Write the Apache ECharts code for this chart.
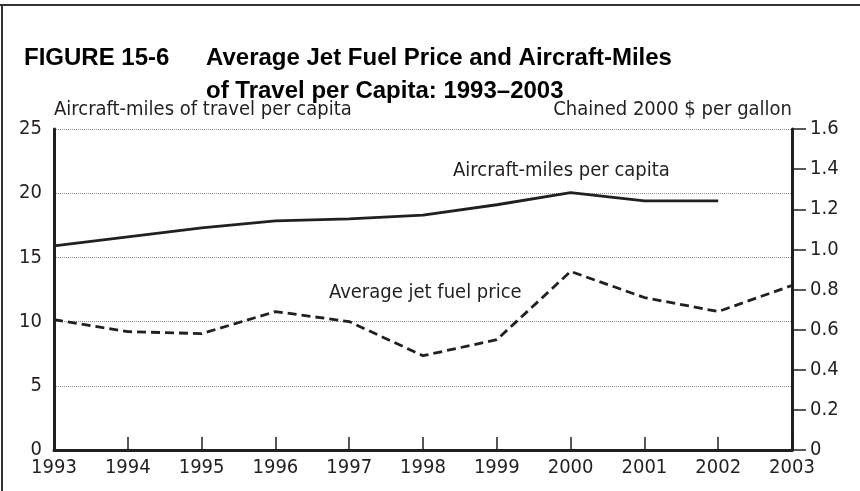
<!DOCTYPE html>
<html>
<head>
<meta charset="utf-8">
<script src="https://cdn.jsdelivr.net/npm/echarts@6/dist/echarts.min.js"></script>
<style>
html,body{margin:0;padding:0;background:#fff;}
#c{width:860px;height:491px;}
</style>
</head>
<body>
<div id="c"></div>
<script>
var years = ['1993','1994','1995','1996','1997','1998','1999','2000','2001','2002','2003'];
var aircraftMiles = [15.9, 16.6, 17.3, 17.85, 18.0, 18.3, 19.1, 20.05, 19.4, 19.4, null];
var jetFuelPrice = [0.65, 0.59, 0.58, 0.69, 0.64, 0.47, 0.55, 0.89, 0.76, 0.69, 0.82];
var leftTicks = [0, 5, 10, 15, 20, 25];
var rightTicks = [0, 0.2, 0.4, 0.6, 0.8, 1.0, 1.2, 1.4, 1.6];

var FONT = "'Liberation Sans Narrow','DejaVu Sans Condensed','Roboto Condensed',sans-serif";
var TFONT = "'Liberation Sans',Arial,sans-serif";
var TXT = '#231f20';

var chart = echarts.init(document.getElementById('c'), null, {renderer: 'canvas'});
chart.setOption({
  animation: false,
  backgroundColor: '#fff',
  grid: {left: 54, right: 68, top: 129, bottom: 41, containLabel: false},
  xAxis: {
    type: 'category',
    data: years,
    boundaryGap: false,
    axisLine: {show: true, lineStyle: {color: TXT, width: 3}},
    axisTick: {show: true, inside: true, length: 13, interval: 0, lineStyle: {color: TXT, width: 1.5}},
    axisLabel: {color: TXT, fontFamily: FONT, fontSize: 20, margin: 8, interval: 0},
    splitLine: {show: false}
  },
  yAxis: [
    {
      type: 'value',
      min: 0, max: 25, interval: 5,
      position: 'left',
      name: 'Aircraft-miles of travel per capita',
      nameLocation: 'end',
      nameGap: 9,
      nameTextStyle: {color: TXT, fontFamily: FONT, fontSize: 20, align: 'left'},
      axisLine: {show: true, onZero: false, lineStyle: {color: TXT, width: 3}},
      axisTick: {show: false},
      axisLabel: {color: TXT, fontFamily: FONT, fontSize: 20, margin: 12, formatter: function(v){ return leftTicks.indexOf(v) >= 0 ? String(v) : ''; }},
      splitLine: {show: true, lineStyle: {color: '#8a8a8a', width: 1, type: [1, 1]}}
    },
    {
      type: 'value',
      min: 0, max: 1.6, interval: 0.2,
      position: 'right',
      name: 'Chained 2000 $ per gallon',
      nameLocation: 'end',
      nameGap: 9,
      nameTextStyle: {color: TXT, fontFamily: FONT, fontSize: 20, align: 'right'},
      axisLine: {show: true, onZero: false, lineStyle: {color: TXT, width: 3}},
      axisTick: {show: true, inside: false, length: 14, lineStyle: {color: TXT, width: 1.5}},
      axisLabel: {color: TXT, fontFamily: FONT, fontSize: 20, margin: 18, formatter: function(v){
        var idx = rightTicks.indexOf(Math.round(v*10)/10);
        if (idx < 0) return '';
        return v === 0 ? '0' : v.toFixed(1);
      }},
      splitLine: {show: false}
    }
  ],
  graphic: [
    {type: 'line', shape: {x1: 0, y1: 5, x2: 860, y2: 5}, style: {stroke: '#333', lineWidth: 2}},
    {type: 'line', shape: {x1: 2, y1: 5, x2: 2, y2: 491}, style: {stroke: '#333', lineWidth: 2}},
    {type: 'text', left: 24, top: 46, style: {text: 'FIGURE 15-6', fill: '#000', font: "bold 24px " + TFONT}},
    {type: 'text', left: 206, top: 46, style: {text: 'Average Jet Fuel Price and Aircraft-Miles', fill: '#000', font: "bold 24px " + TFONT}},
    {type: 'text', left: 206, top: 79, style: {text: 'of Travel per Capita: 1993\u20132003', fill: '#000', font: "bold 24px " + TFONT}},
    {type: 'text', left: 453, top: 161, style: {text: 'Aircraft-miles per capita', fill: TXT, font: "20px " + FONT}},
    {type: 'text', left: 329, top: 283, style: {text: 'Average jet fuel price', fill: TXT, font: "20px " + FONT}}
  ],
  series: [
    {
      name: 'Aircraft-miles per capita',
      type: 'line',
      yAxisIndex: 0,
      data: aircraftMiles,
      symbol: 'none',
      lineStyle: {color: TXT, width: 2.8},
      connectNulls: false
    },
    {
      name: 'Average jet fuel price',
      type: 'line',
      yAxisIndex: 1,
      data: jetFuelPrice,
      symbol: 'none',
      lineStyle: {color: TXT, width: 2.8, type: [9, 5]}
    }
  ]
});
</script>
</body>
</html>
